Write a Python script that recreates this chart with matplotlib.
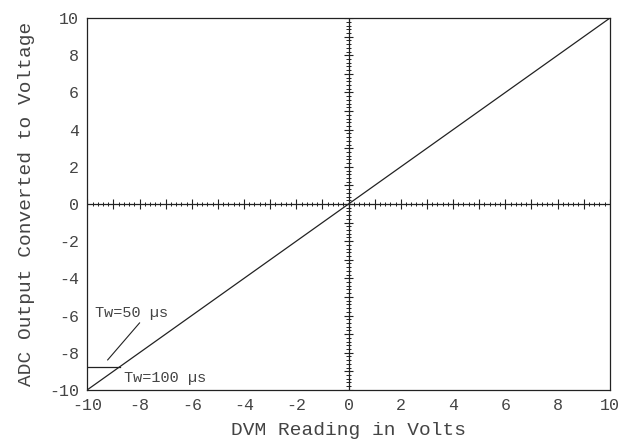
import matplotlib.pyplot as plt
import numpy as np

# DVM reading vs ADC output (volts)
dvm_100 = [-10, 10]
adc_100 = [-10, 10]
dvm_50 = [-10, -8.75]
adc_50 = [-8.75, -8.75]

ticks = [-10, -8, -6, -4, -2, 0, 2, 4, 6, 8, 10]
tick_labels = ["-10", "-8", "-6", "-4", "-2", "0", "2", "4", "6", "8", "10"]

font = "Liberation Mono"
col = "#444444"

fig = plt.figure(figsize=(6.28, 4.43), dpi=100)
ax = fig.add_axes([0.139, 0.12, 0.832, 0.839])

# main curves
ax.plot(dvm_100, adc_100, color="#222222", lw=0.9)
ax.plot(dvm_50, adc_50, color="#222222", lw=0.9)

# crosshair through origin with plotter-style ticks
ax.axhline(0, color="#222222", lw=0.9)
ax.axvline(0, color="#222222", lw=0.9)
minor = np.arange(-10, 10.01, 0.2)
major = np.arange(-10, 11, 1)
ax.vlines(minor, -0.12, 0.12, color="#222222", lw=0.7)
ax.vlines(major, -0.25, 0.25, color="#222222", lw=0.8)
ax.hlines(minor, -0.09, 0.09, color="#222222", lw=0.7)
ax.hlines(major, -0.18, 0.18, color="#222222", lw=0.8)

# annotations
ax.text(-9.7, -5.85, "Tw=50 \u00b5s", fontsize=11, family=font, color=col, va="center")
ax.plot([-9.22, -8.0], [-8.39, -6.4], color="#222222", lw=0.8)
ax.text(-8.6, -9.35, "Tw=100 \u00b5s", fontsize=11, family=font, color=col, va="center")

ax.set_xlim(-10, 10)
ax.set_ylim(-10, 10)
ax.set_xticks(ticks)
ax.set_xticklabels(tick_labels, family=font, fontsize=12, color=col)
ax.set_yticks(ticks)
ax.set_yticklabels(tick_labels, family=font, fontsize=12, color=col)
ax.tick_params(length=0, pad=6)
for s in ax.spines.values():
    s.set_linewidth(0.9)
    s.set_color("#222222")

ax.set_xlabel("DVM Reading in Volts", family=font, fontsize=14, color=col, labelpad=6)
ax.set_ylabel("ADC Output Converted to Voltage", family=font, fontsize=14, color=col, labelpad=10)

plt.savefig("out.png", dpi=100)
